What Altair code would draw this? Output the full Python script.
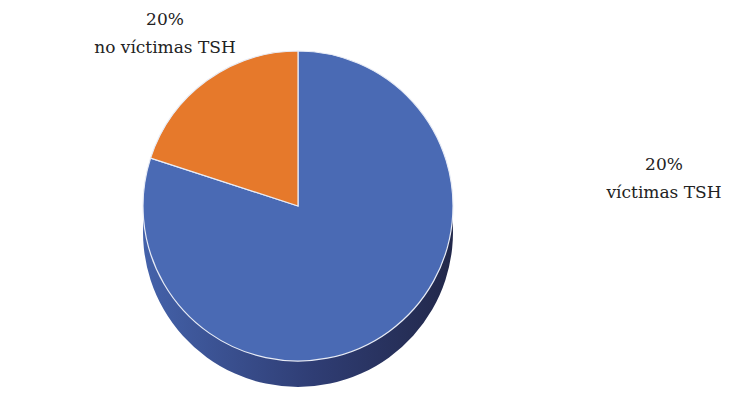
import altair as alt
import pandas as pd

categories = ["víctimas TSH", "no víctimas TSH"]
values = [80, 20]
labels = ["20%\nvíctimas TSH", "20%\nno víctimas TSH"]
colors = ["#4A6AB4", "#E6792B"]

df = pd.DataFrame({"category": categories, "value": values, "label": labels,
                   "order": [0, 1]})

CX, CY, R, DEPTH = 290, 198, 155, 26

side = alt.Chart(df).mark_arc(
    radius=R,
    fill=alt.Gradient(
        gradient="linear", x1=0, x2=1, y1=0, y2=0,
        stops=[alt.GradientStop(offset=0, color="#4462AA"),
               alt.GradientStop(offset=0.55, color="#2F3D74"),
               alt.GradientStop(offset=1, color="#22284A")]),
).encode(
    theta=alt.Theta("value:Q", stack=True),
    order=alt.Order("order:Q"),
    x=alt.value(CX), y=alt.value(CY + DEPTH),
)

top = alt.Chart(df).mark_arc(radius=R, stroke="#E8ECF6", strokeWidth=1.2).encode(
    theta=alt.Theta("value:Q", stack=True),
    order=alt.Order("order:Q"),
    color=alt.Color("category:N", scale=alt.Scale(domain=categories, range=colors), legend=None),
    x=alt.value(CX), y=alt.value(CY),
)

text_style = dict(font="DejaVu Serif", fontSize=17,
                  color="#222222", lineBreak="\n", lineHeight=28,
                  align="center", baseline="middle")

lab_no = alt.Chart(df).transform_filter(alt.datum.category == "no víctimas TSH").mark_text(
    **text_style).encode(text="label:N", x=alt.value(157), y=alt.value(12))

lab_si = alt.Chart(df).transform_filter(alt.datum.category == "víctimas TSH").mark_text(
    **text_style).encode(text="label:N", x=alt.value(656), y=alt.value(157))

chart = alt.layer(side, top, lab_no, lab_si).properties(
    width=720, height=387, padding=0, autosize="none"
).configure_view(stroke=None)

chart.save("out.html", embed_options={"renderer": "svg", "actions": False})
